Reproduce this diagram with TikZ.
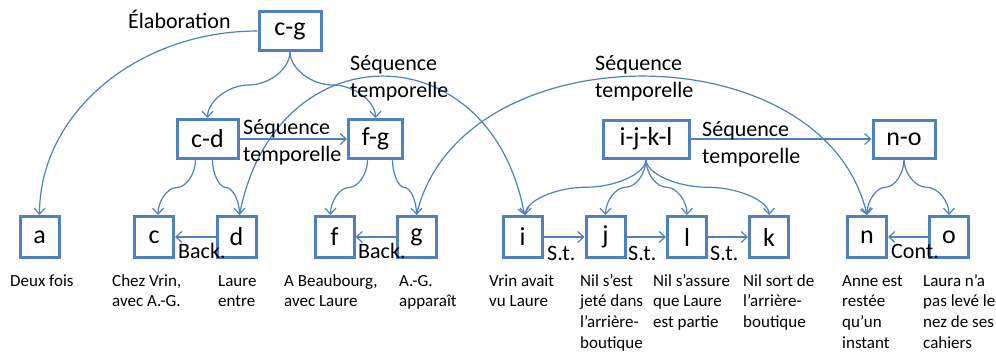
\documentclass[tikz,border=0pt]{standalone}
\usepackage{fontspec}
\setmainfont{Carlito}
\usetikzlibrary{arrows.meta,calc}
\definecolor{ob}{RGB}{79,129,189}
\newcommand\sconn[2]{\draw[conn] let \p1=(#1), \p2=(#2) in (\p1) .. controls (\x1,{(3*\y1+\y2)/4}) and ({(3*\x1+\x2)/4},{(\y1+\y2)/2}) .. ({(\x1+\x2)/2},{(\y1+\y2)/2}) .. controls ({(\x1+3*\x2)/4},{(\y1+\y2)/2}) and (\x2,{(\y1+3*\y2)/4}) .. (\p2);}
\begin{document}
\begin{tikzpicture}[x=1pt,y=-1pt,
 box/.style={draw=ob, line width=3pt, fill=white, inner sep=0pt, font=\fontsize{26}{30}\selectfont},
 leaf/.style={box, minimum width=39pt, minimum height=41pt},
 conn/.style={draw=ob, line width=1.2pt, -{Straight Barb[length=6pt,width=11pt]}},
 lbl/.style={inner sep=0pt, font=\fontsize{22}{27}\selectfont, anchor=base west},
 lbltwo/.style={inner sep=0pt, font=\fontsize{22}{27}\selectfont, anchor=north west, align=left},
 desc/.style={inner sep=0pt, font=\fontsize{17}{20.7}\selectfont, anchor=north west, align=left}]
\fill[white] (0,0) rectangle (996,351);
\useasboundingbox (0,0) rectangle (996,351);
% upper boxes
\node[box, minimum width=62pt, minimum height=39pt] (cg) at (290,31) {c-g};
\node[box, minimum width=61pt, minimum height=39pt] (cd) at (207.5,139) {c-d};
\node[box, minimum width=54pt, minimum height=39pt] (fg) at (375.5,139) {f-g};
\node[box, minimum width=86pt, minimum height=38pt] (ijkl) at (646,139) {i-j-k-l};
\node[box, minimum width=62pt, minimum height=38pt] (no) at (904,139) {n-o};
% leaves
\node[leaf] (a) at (39.5,237) {a};
\node[leaf] (c) at (154,237) {c};
\node[leaf] (d) at (236.5,237) {d};
\node[leaf] (f) at (334.5,237) {f};
\node[leaf] (g) at (416.5,237) {g};
\node[leaf] (i) at (522.5,237) {i};
\node[leaf] (j) at (605.5,237) {j};
\node[leaf] (l) at (687,237) {l};
\node[leaf] (k) at (769,237) {k};
\node[leaf] (n) at (867,237) {n};
\node[leaf] (o) at (949,237) {o};
% connectors
\draw[conn] (cg.west) .. controls ($(cg.west)+(-120,0)$) and ($(a.north)+(0,-102)$) .. (a.north);
\sconn{cg.south}{cd.north}
\sconn{cg.south}{fg.north}
\draw[conn] (cd) -- (fg);
\draw[conn] (ijkl) -- (no);
\sconn{$(cd.south)+(-12,0)$}{$(c.north)+(4,0)$}
\sconn{$(cd.south)+(5,0)$}{$(d.north)+(3,0)$}
\sconn{$(fg.south)+(-8,0)$}{$(f.north)+(-4,0)$}
\sconn{$(fg.south)+(17,0)$}{g.north}
\sconn{ijkl.south}{$(i.north)+(3,0)$}
\sconn{ijkl.south}{j.north}
\sconn{ijkl.south}{l.north}
\sconn{ijkl.south}{k.north}
\sconn{no.south}{n.north}
\sconn{no.south}{o.north}
\draw[conn] ($(d.north)+(3,0)$) .. controls ($(d.north)+(38,-185)$) and ($(i.north)+(-32,-185)$) .. ($(i.north)+(2,0)$);
\draw[conn] (g.north) .. controls ($(g.north)+(43,-185)$) and ($(n.north)+(-43,-185)$) .. (n.north);
\draw[conn] (d) -- (c);
\draw[conn] (g) -- (f);
\draw[conn] (i) -- (j);
\draw[conn] (j) -- (l);
\draw[conn] (l) -- (k);
\draw[conn] (o) -- (n);
% relation labels
\node[lbl] (lelab) at (128,28) {Élaboration};
\node[lbltwo] (lst1) at (350,52) {\rule{0pt}{18pt}Séquence\\temporelle};
\node[lbltwo] (lst2) at (595,52) {\rule{0pt}{18pt}Séquence\\temporelle};
\node[lbltwo] (lst3) at (243,116) {\rule{0pt}{18pt}Séquence\\temporelle};
\node[lbltwo] (lst4) at (702,118) {\rule{0pt}{18pt}Séquence\\temporelle};
\node[lbl] (lb1) at (178,258) {Back.};
\node[lbl] (lb2) at (358,258) {Back.};
\node[lbl] (ls1) at (547,260) {S.t.};
\node[lbl] (ls2) at (628,260) {S.t.};
\node[lbl] (ls3) at (710,260) {S.t.};
\node[lbl] (lco) at (891,258) {Cont.};
% descriptions
\node[desc] (ta) at (10,273) {\rule{0pt}{13pt}Deux fois};
\node[desc] (tc) at (112,273) {\rule{0pt}{13pt}Chez Vrin,\\avec A.-G.};
\node[desc] (td) at (218,273) {\rule{0pt}{13pt}Laure\\entre};
\node[desc] (tf) at (284,273) {\rule{0pt}{13pt}A Beaubourg,\\avec Laure};
\node[desc] (tg) at (399,273) {\rule{0pt}{13pt}A.-G.\\apparaît};
\node[desc] (ti) at (489,273) {\rule{0pt}{13pt}Vrin avait\\vu Laure};
\node[desc] (tj) at (580,273) {\rule{0pt}{13pt}Nil s’est\\jeté dans\\l’arrière-\\boutique};
\node[desc] (tl) at (653,273) {\rule{0pt}{13pt}Nil s’assure\\que Laure\\est partie};
\node[desc] (tk) at (743,273) {\rule{0pt}{13pt}Nil sort de\\l’arrière-\\boutique};
\node[desc] (tn) at (842,273) {\rule{0pt}{13pt}Anne est\\restée\\qu’un\\instant};
\node[desc] (to) at (923,273) {\rule{0pt}{13pt}Laura n’a\\pas levé le\\nez de ses\\cahiers};
\end{tikzpicture}
\end{document}
